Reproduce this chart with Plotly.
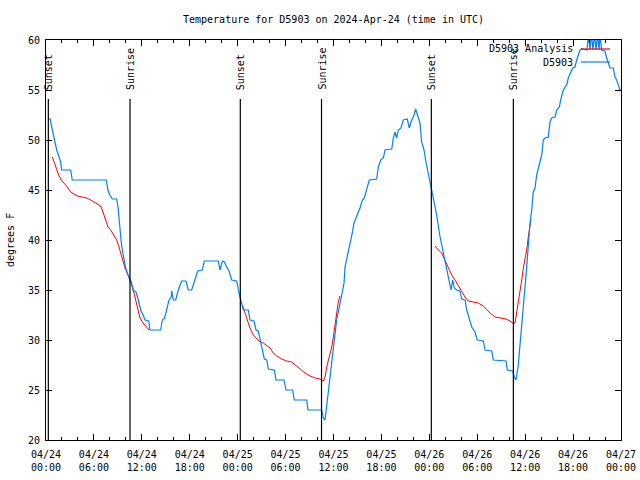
import datetime as dt
import plotly.graph_objects as go

TITLE = "Temperature for D5903 on 2024-Apr-24 (time in UTC)"
BASE = dt.datetime(2024, 4, 24, 0, 0)

# Observations (hours since 2024-04-24 00:00 UTC, degrees F)
obs_hours = [0.34, 0.54, 0.66, 0.88, 1.13, 1.34, 1.63, 1.84, 1.97, 3.09, 3.29, 7.55, 7.76, 7.98, 8.30, 8.85,
             9.02, 9.14, 9.27, 9.43, 9.60, 9.77, 9.98, 10.18, 10.43, 10.68, 10.93, 11.27, 11.56, 11.86, 12.15,
             12.40, 12.86, 13.02, 14.36, 14.56, 14.86, 15.11, 15.40, 15.69, 15.74, 15.94, 16.24, 16.57, 16.99,
             17.53, 17.82, 18.24, 18.66, 19.00, 19.57, 19.82, 21.58, 21.79, 22.08, 22.33, 22.63, 22.92, 23.25,
             23.88, 24.17, 24.38, 24.71, 25.33, 25.54, 26.05, 26.30, 26.58, 26.80, 27.14, 27.34, 27.64, 27.84,
             28.59, 28.80, 29.80, 30.05, 30.89, 31.09, 32.64, 32.81, 34.52, 34.72, 34.94, 35.15, 35.35, 35.58,
             35.90, 36.19, 36.40, 36.73, 37.03, 37.32, 37.44, 37.73, 38.07, 38.35, 38.57, 38.82, 39.11, 39.32,
             39.61, 39.86, 40.16, 40.48, 41.41, 41.61, 41.91, 42.24, 42.45, 43.29, 43.49, 43.70, 43.91, 44.11,
             44.45, 44.74, 45.24, 45.49, 45.79, 46.08, 46.29, 46.54, 46.83, 47.04, 47.33, 47.58, 47.87, 48.21,
             48.50, 48.92, 49.30, 49.67, 49.96, 50.25, 50.50, 50.71, 50.92, 51.13, 51.43, 51.84, 52.05, 52.47,
             52.68, 53.00, 53.31, 53.72, 54.01, 54.76, 54.97, 55.81, 56.01, 57.60, 57.76, 58.44, 58.64, 58.85,
             59.14, 59.35, 59.57, 59.77, 59.98, 60.19, 60.39, 60.61, 60.82, 61.02, 61.23, 61.44, 61.65, 61.86,
             62.07, 62.27, 62.48, 62.90, 63.11, 63.32, 63.74, 63.95, 64.28, 64.45, 64.70, 64.99, 65.20, 65.40,
             65.70, 65.95, 66.24, 66.45, 66.87, 67.08, 67.74, 67.93, 68.12, 68.31, 68.49, 68.68, 68.87, 69.06,
             69.25, 69.37, 69.58, 69.99, 70.21, 70.41, 70.62, 71.04, 71.25, 71.46, 71.66, 71.87, 72.0]
obs_temp = [52.1, 52.1, 51.5, 50.7, 49.8, 49.0, 48.3, 47.8, 47.0, 47.0, 46.0, 46.0, 45.0, 44.5, 44.1, 44.1,
            43.3, 42.3, 40.7, 39.7, 38.8, 38.0, 37.2, 36.7, 36.2, 35.8, 35.0, 34.8, 34.0, 33.0, 32.5,
            32.0, 31.9, 31.0, 31.0, 32.0, 32.2, 33.2, 34.0, 34.3, 34.9, 34.0, 34.0, 35.0, 35.9,
            35.9, 35.0, 35.0, 36.0, 36.9, 37.0, 37.9, 37.9, 37.0, 37.9, 37.8, 37.3, 36.9, 36.0,
            35.9, 34.7, 34.0, 33.0, 33.0, 32.0, 31.9, 31.0, 30.9, 30.0, 29.0, 28.1, 28.0, 27.1,
            27.0, 26.0, 26.0, 25.0, 25.0, 24.0, 24.0, 23.0, 23.0, 22.2, 22.0, 23.4, 24.7, 26.5,
            28.3, 30.3, 32.0, 33.3, 34.7, 35.7, 37.3, 38.3, 39.7, 40.7, 41.7, 42.3, 42.8, 43.2,
            44.0, 44.2, 45.0, 46.0, 46.1, 47.3, 48.0, 48.2, 49.0, 49.1, 50.2, 50.8, 50.2, 51.0,
            51.2, 52.0, 52.1, 51.2, 52.0, 52.5, 53.1, 52.5, 51.7, 49.8, 49.0, 47.8, 46.7, 45.3,
            44.3, 42.5, 40.5, 39.0, 38.0, 36.7, 35.7, 35.0, 36.0, 35.2, 35.0, 34.9, 34.1, 34.0,
            33.0, 32.0, 31.3, 30.8, 30.0, 29.9, 29.0, 28.9, 28.0, 27.9, 27.0, 26.9, 26.3, 26.0,
            27.5, 29.5, 31.3, 33.3, 35.3, 37.3, 39.7, 41.7, 43.0, 44.8, 45.2, 46.5, 47.2, 47.8,
            48.5, 50.0, 50.2, 50.3, 51.8, 52.2, 52.3, 53.0, 53.3, 54.0, 54.8, 55.3, 55.5, 56.2,
            56.8, 57.2, 57.3, 58.0, 59.0, 59.1, 59.0, 60.6, 59.0, 60.6, 59.0, 60.6, 59.0, 60.6,
            59.0, 60.6, 59.0, 58.9, 58.2, 57.7, 57.2, 57.2, 56.3, 56.0, 55.5, 55.0, 55.0]

# Analysis (None separates the nightly segments)
ana_hours = [0.79, 1.00, 1.21, 1.41, 1.63, 1.92, 2.25, 2.67, 3.09, 3.51, 3.92, 4.55, 5.10, 5.60, 6.01, 6.42,
             6.85, 7.05, 7.26, 7.48, 7.76, 8.10, 8.51, 8.85, 9.14, 9.35, 9.64, 9.85, 10.18, 10.52, 10.81,
             11.02, 11.23, 11.43, 11.73, 12.06, 12.40, 12.68, 12.90, None,
             24.60, 25.13, 25.54, 25.96, 26.38, 26.80, 27.21, 27.64, 28.05, 28.46, 28.89, 29.51, 30.14,
             30.77, 31.18, 31.81, 32.43, 33.06, 33.68, 34.31, 34.72, 34.94, 35.15, 35.47, 35.78, 35.98,
             36.19, 36.40, 36.60, 36.81, None,
             48.71, 49.12, 49.55, 49.96, 50.38, 50.80, 51.21, 51.63, 52.05, 52.47, 52.88, 53.51, 54.13,
             54.76, 55.18, 55.60, 56.22, 56.85, 57.60, 58.10, 58.44, 58.73, 58.94, 59.14, 59.35, 59.57,
             59.77, 59.98, 60.19, 60.39, 60.61, 60.73]
ana_temp = [48.3, 47.8, 47.3, 46.8, 46.4, 46.0, 45.7, 45.3, 44.8, 44.6, 44.4, 44.3, 44.2, 44.0, 43.8, 43.6,
            43.4, 43.0, 42.5, 41.8, 41.3, 41.0, 40.5, 40.0, 39.3, 38.7, 38.0, 37.3, 36.7, 36.0, 35.3,
            34.7, 34.0, 33.2, 32.3, 31.8, 31.5, 31.2, 31.0, None,
            33.5, 32.2, 31.2, 30.5, 30.2, 29.8, 29.7, 29.4, 29.2, 28.7, 28.4, 28.1, 27.9,
            27.8, 27.5, 27.1, 26.7, 26.4, 26.2, 26.1, 25.9, 26.3, 27.3, 28.3, 29.3, 30.3,
            31.7, 32.7, 33.8, 34.4, None,
            39.4, 39.0, 38.7, 38.0, 37.2, 36.5, 36.0, 35.4, 34.8, 34.3, 33.9, 33.8, 33.7,
            33.4, 33.0, 32.7, 32.3, 32.2, 32.1, 31.9, 31.7, 31.7, 32.7, 33.7, 34.7, 36.0,
            37.2, 38.0, 39.0, 40.3, 41.7, 42.1]

# Sun events (hours since start)
sun_hours = [0.29, 10.52, 24.33, 34.50, 48.25, 58.52]
sun_labels = ["Sunset", "Sunrise", "Sunset", "Sunrise", "Sunset", "Sunrise"]

tick_hours = list(range(0, 73, 6))
tick_labels = ["04/24<br>00:00", "04/24<br>06:00", "04/24<br>12:00", "04/24<br>18:00",
               "04/25<br>00:00", "04/25<br>06:00", "04/25<br>12:00", "04/25<br>18:00",
               "04/26<br>00:00", "04/26<br>06:00", "04/26<br>12:00", "04/26<br>18:00",
               "04/27<br>00:00"]
y_ticks = [20, 25, 30, 35, 40, 45, 50, 55, 60]

series_names = ["D5903 Analysis", "D5903"]
RED = "#ff0000"
BLUE = "#0080ff"
FONT = "DejaVu Sans Mono"


def to_t(h):
    return None if h is None else BASE + dt.timedelta(hours=h)


fig = go.Figure()
fig.add_trace(go.Scatter(x=[to_t(h) for h in ana_hours], y=ana_temp, mode="lines",
                         line=dict(color=RED, width=1), name=series_names[0],
                         connectgaps=False, hoverinfo="skip"))
fig.add_trace(go.Scatter(x=[to_t(h) for h in obs_hours], y=obs_temp, mode="lines",
                         line=dict(color=BLUE, width=1.2), name=series_names[1], hoverinfo="skip"))

L, R, T, B = 46, 19, 40, 40
PW, PH = 640 - L - R, 480 - T - B


def px(xp):
    return (xp - L) / PW


def py(yp):
    return (480 - B - yp) / PH


# Sunrise / sunset lines and labels
for h, lab in zip(sun_hours, sun_labels):
    t = to_t(h)
    fig.add_shape(type="line", xref="x", yref="y", x0=t, x1=t, y0=20, y1=54.1,
                  line=dict(color="black", width=1.2))
    fig.add_annotation(x=t, xref="x", y=py(92), yref="paper", text=lab, textangle=-90,
                       showarrow=False, xanchor="center", yanchor="bottom",
                       font=dict(family=FONT, size=10, color="black"))

# Legend (gnuplot style: text right, sample line)
for i, (name, col) in enumerate(zip(series_names, [RED, BLUE])):
    yy = 49 + 13 * i
    fig.add_annotation(x=px(575), y=py(yy), xref="paper", yref="paper", text=name,
                       showarrow=False, xanchor="right", yanchor="middle",
                       font=dict(family=FONT, size=10, color="black"))
    fig.add_shape(type="line", xref="paper", yref="paper", x0=px(581), x1=px(610),
                  y0=py(yy), y1=py(yy), line=dict(color=col, width=1.2))

# Title and y label
fig.add_annotation(x=0.5, y=py(20), xref="paper", yref="paper", text=TITLE, showarrow=False,
                   xanchor="center", yanchor="middle", font=dict(family=FONT, size=10, color="black"))
fig.add_annotation(x=px(10), y=py(240), xref="paper", yref="paper", text="degrees F", textangle=-90,
                   showarrow=False, xanchor="center", yanchor="middle",
                   font=dict(family=FONT, size=10, color="black"))

fig.update_layout(
    width=640, height=480, margin=dict(l=L, r=R, t=T, b=B, autoexpand=False),
    paper_bgcolor="white", plot_bgcolor="white", showlegend=False,
    font=dict(family=FONT, size=10, color="black"),
    xaxis=dict(type="date", range=[to_t(0), to_t(72)], automargin=False,
               tickvals=[to_t(h) for h in tick_hours], ticktext=tick_labels,
               ticks="inside", ticklen=6, tickcolor="black", tickwidth=1,
               minor=dict(dtick=2 * 3600 * 1000, ticks="inside", ticklen=3, tickcolor="black",
                          showgrid=False),
               showline=True, linecolor="black", linewidth=1, mirror="ticks",
               showgrid=False, zeroline=False, ticklabelstandoff=5,
               tickfont=dict(family=FONT, size=10)),
    yaxis=dict(range=[20, 60], tickvals=y_ticks, ticks="inside", ticklen=6, tickcolor="black",
               automargin=False, ticklabelstandoff=3,
               showline=True, linecolor="black", linewidth=1, mirror="ticks",
               showgrid=False, zeroline=False, tickfont=dict(family=FONT, size=10)),
)

fig.write_html("out.html", config={"displayModeBar": False, "staticPlot": True},
               post_script="document.body.style.margin='0';document.body.style.padding='0';")
